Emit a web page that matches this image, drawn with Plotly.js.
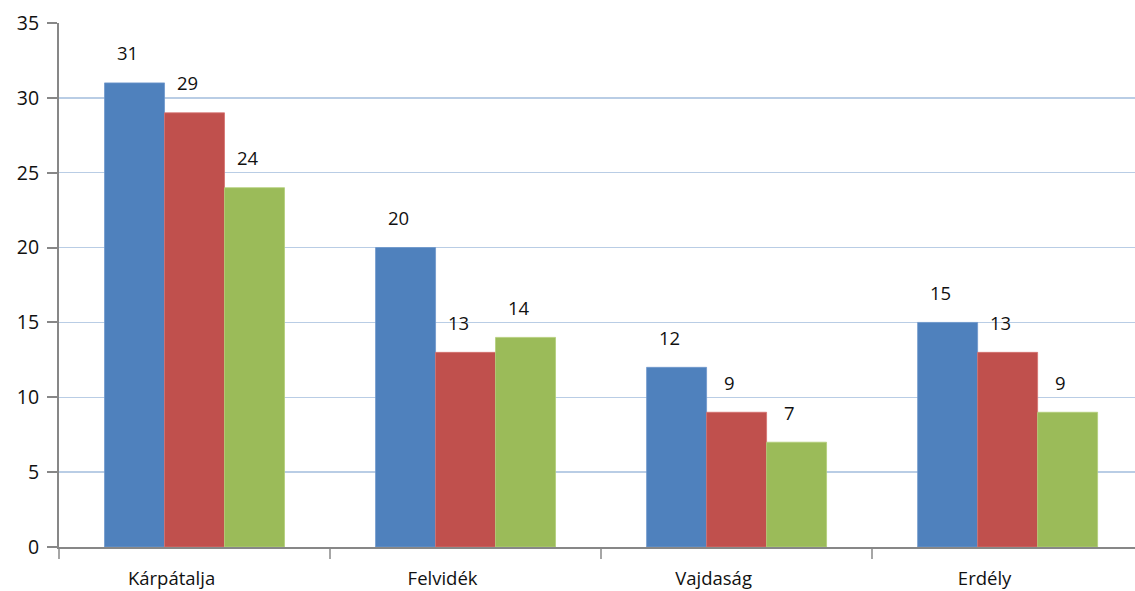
<!DOCTYPE html>
<html>
<head>
<meta charset="utf-8">
<script src="https://cdn.plot.ly/plotly-3.0.1.min.js"></script>
<style>
html,body{margin:0;padding:0;background:#fff;overflow:hidden;}
#chart{width:1135px;height:591px;}
</style>
</head>
<body>
<div id="chart"></div>
<script>
var categories = ["Kárpátalja", "Felvidék", "Vajdaság", "Erdély"];
var series1 = [31, 20, 12, 15];
var series2 = [29, 13, 9, 13];
var series3 = [24, 14, 7, 9];
var yTicks = [0, 5, 10, 15, 20, 25, 30, 35];

var colors = ["#4F81BD", "#C0504D", "#9BBB59"];
var lineColors = ["#6F97CC", "#D6716E", "#B2CE78"];
var allSeries = [series1, series2, series3];
var bargap = 0.336;

var traces = allSeries.map(function (vals, k) {
  return {
    type: "bar",
    x: categories,
    y: vals,
    marker: { color: colors[k], line: { color: lineColors[k], width: 0.8 } },
    hoverinfo: "none"
  };
});

var annotations = [];
var barW = (1 - bargap) / 3;
allSeries.forEach(function (vals, k) {
  vals.forEach(function (v, i) {
    annotations.push({
      x: i + (k - 1) * barW,
      y: v,
      xref: "x",
      yref: "y",
      text: String(v),
      showarrow: false,
      xanchor: "center",
      yanchor: "middle",
      xshift: -7,
      yshift: 30,
      font: { family: "Open Sans, sans-serif", size: 18.5, color: "#111111" }
    });
  });
});

var layout = {
  width: 1135,
  height: 591,
  margin: { l: 59, r: 0, t: 23, b: 44, pad: 0 },
  paper_bgcolor: "#ffffff",
  plot_bgcolor: "#ffffff",
  barmode: "group",
  bargap: bargap,
  bargroupgap: 0,
  showlegend: false,
  font: { family: "Open Sans, sans-serif", size: 18, color: "#111111" },
  xaxis: {
    type: "category",
    range: [-0.5, 3.47],
    showgrid: false,
    showline: true,
    linecolor: "#878787",
    linewidth: 2,
    ticks: "outside",
    tickson: "boundaries",
    ticklen: 10,
    tickwidth: 2,
    tickcolor: "#A6A6A6",
    ticklabelshift: -23,
    ticklabelstandoff: 14,
    tickfont: { family: "Open Sans, sans-serif", size: 18.5, color: "#111111" },
    zeroline: false,
    fixedrange: true
  },
  yaxis: {
    range: [0, 35],
    tickvals: yTicks,
    ticktext: yTicks.map(String),
    showgrid: true,
    gridcolor: "#B9CDE5",
    gridwidth: 1.5,
    showline: true,
    linecolor: "#878787",
    linewidth: 2,
    ticks: "outside",
    ticklen: 10,
    tickwidth: 2,
    tickcolor: "#878787",
    ticklabelstandoff: 4,
    tickfont: { family: "Open Sans, sans-serif", size: 19.5, color: "#111111" },
    zeroline: false,
    fixedrange: true
  },
  annotations: annotations
};

Plotly.newPlot("chart", traces, layout, { displayModeBar: false, staticPlot: true });
</script>
</body>
</html>
